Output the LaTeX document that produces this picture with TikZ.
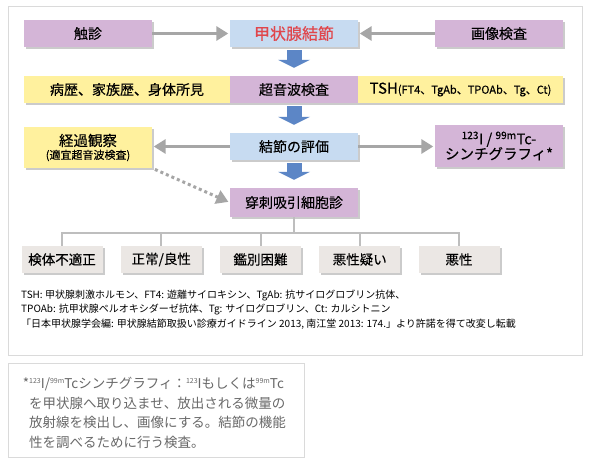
\documentclass[tikz,border=0pt]{standalone}
\usepackage{fontspec}
\setmainfont{Noto Sans CJK JP}
\newfontfamily\boxfont[FakeBold=0.3]{Noto Sans CJK JP}
\usetikzlibrary{arrows.meta,shadows}

\definecolor{lilac}{RGB}{212,181,215}
\definecolor{paleblue}{RGB}{199,219,241}
\definecolor{paleyellow}{RGB}{255,241,158}
\definecolor{warmgray}{RGB}{235,231,228}
\definecolor{arrowgray}{RGB}{166,166,166}
\definecolor{flowblue}{RGB}{92,134,198}
\definecolor{linegray}{RGB}{190,190,190}
\definecolor{framegray}{RGB}{218,218,218}
\definecolor{nodulered}{RGB}{224,70,76}
\definecolor{notegray}{RGB}{105,105,105}

\newcommand{\sups}[1]{\raisebox{0.75ex}{\fontsize{7}{7}\selectfont #1}}

\begin{document}
\begin{tikzpicture}[x=1pt,y=-1pt,
    box/.style={inner sep=0pt, minimum height=27pt,
      font=\boxfont\fontsize{14}{15}\selectfont,
      drop shadow={shadow xshift=2pt,shadow yshift=-2pt,fill=black!45,opacity=0.45}},
    lilacbox/.style={box,fill=lilac},
    bluebox/.style={box,fill=paleblue},
    yellowbox/.style={box,fill=paleyellow},
    resultbox/.style={box,fill=warmgray,minimum width=81pt,
      font=\boxfont\fontsize{13.5}{15}\selectfont},
    grayarrow/.style={draw=arrowgray,line width=3pt,
      -{Triangle[length=12pt,width=14pt]},shorten >=1.5pt},
    bluearrow/.style={draw=flowblue,line width=15pt,
      -{Triangle[length=8pt,width=32pt,line width=0pt]},shorten <=3pt,shorten >=8pt},
    tree/.style={draw=linegray,line width=2pt},
    footnote/.style={anchor=west,inner sep=0pt,font=\fontsize{10}{11}\selectfont}]
  \fill[white] (0,0) rectangle (590,466);
  \useasboundingbox (0,0) rectangle (590,466);
  \draw[framegray] (8,6) rectangle (582,355);
  \draw[framegray] (8,363) rectangle (304,457);

  % top row
  \node[lilacbox, minimum width=128pt] (palp) at (88,33.5) {触診};
  \node[bluebox, minimum width=128pt, text=nodulered,
    font=\boxfont\fontsize{16}{17}\selectfont] (nodule) at (294,33.5) {甲状腺結節};
  \node[lilacbox, minimum width=128pt] (imaging) at (499,33.5) {画像検査};

  % second row
  \node[yellowbox, minimum width=206pt] (history) at (127,89.5) {病歴、家族歴、身体所見};
  \node[lilacbox, minimum width=128pt] (echo) at (294,89.5) {超音波検査};
  \node[yellowbox, minimum width=205pt] (labs) at (460.5,89.5)
    {{\fontsize{15}{16}\selectfont TSH}{\fontsize{11}{13}\selectfont(FT4、TgAb、TPOAb、Tg、Ct)}};

  % third row
  \node[yellowbox, minimum width=128pt, minimum height=41pt, align=center,
    font=\boxfont\fontsize{14.5}{14}\selectfont] (watch) at (88,147.5)
    {経過観察\\[-1pt]{\fontsize{11}{13}\selectfont(適宜超音波検査)}};
  \node[bluebox, minimum width=128pt] (assess) at (294,146.5) {結節の評価};
  \node[lilacbox, minimum width=128pt, minimum height=42pt, align=center,
    font=\boxfont\fontsize{14.5}{15}\selectfont] (scinti) at (499,146)
    {\textsuperscript{123}I / \textsuperscript{99m}Tc-\\シンチグラフィ*};

  \node[lilacbox, minimum width=128pt, minimum height=29pt] (fna) at (294,202.5) {穿刺吸引細胞診};

  % results
  \foreach \txt [count=\i] in {検体不適正, {正常/良性}, 鑑別困難, 悪性疑い, 悪性}
    \node[resultbox] (r\i) at ({62+99.25*(\i-1)},259.5) {\txt};

  \coordinate (bus) at (294,233);
  \draw[tree] (fna.south) -- (fna.south |- bus);
  \draw[tree] (r1.north) |- (r5.north |- bus) -- (r5.north);
  \foreach \i in {2,3,4}
    \draw[tree] (r\i.north) -- (r\i.north |- bus);

  % connectors
  \draw[grayarrow] (palp) -- (nodule);
  \draw[grayarrow] (imaging) -- (nodule);
  \draw[grayarrow] (assess.west) -- (assess.west -| watch.east);
  \draw[grayarrow] (assess.east) -- (assess.east -| scinti.west);
  \draw[grayarrow, dash pattern=on 3pt off 3pt, shorten <=3pt] (watch.south east) -- (fna.west);
  \draw[bluearrow] (nodule) -- (echo);
  \draw[bluearrow] (echo) -- (assess);
  \draw[bluearrow] (assess) -- (fna);

  % notes
  \node[footnote] (abbr1) at (21,295)
    {TSH: 甲状腺刺激ホルモン、FT4: 遊離サイロキシン、TgAb: 抗サイログロブリン抗体、};
  \node[footnote] (abbr2) at (21,309)
    {TPOAb: 抗甲状腺ペルオキシダーゼ抗体、Tg: サイログロブリン、Ct: カルシトニン};
  \node[footnote] (source) at (21,324)
    {「日本甲状腺学会編: 甲状腺結節取扱い診療ガイドライン 2013, 南江堂 2013: 174.」より許諾を得て改変し転載};
  \node[anchor=north west, align=left, inner sep=0pt, text=notegray,
    font=\fontsize{13.5}{19.5}\selectfont] (note) at (29,377)
    {\llap{*}\sups{123}I/\sups{99m}Tcシンチグラフィ：\sups{123}Iもしくは\sups{99m}Tc\\
     を甲状腺へ取り込ませ、放出される微量の\\
     放射線を検出し、画像にする。結節の機能\\
     性を調べるために行う検査。};
\end{tikzpicture}
\end{document}
